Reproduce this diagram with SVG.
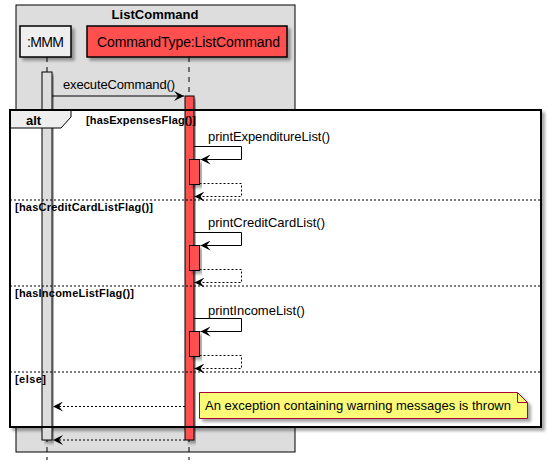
<svg xmlns="http://www.w3.org/2000/svg" width="554" height="464" viewBox="0 0 554 464">
<defs>
<filter id="sh" x="-10%" y="-10%" width="130%" height="130%">
<feGaussianBlur in="SourceAlpha" stdDeviation="1.5"/>
<feOffset dx="3" dy="3" result="o"/>
<feComponentTransfer><feFuncA type="linear" slope="0.35"/></feComponentTransfer>
<feMerge><feMergeNode/><feMergeNode in="SourceGraphic"/></feMerge>
</filter>
<marker id="ah" markerWidth="12" markerHeight="10" refX="11" refY="5" orient="auto" markerUnits="userSpaceOnUse">
<path d="M1,0 L11,5 L1,10 L5,5 Z" fill="#000"/>
</marker>
<style>
text{font-family:"Liberation Sans",Arial,sans-serif;fill:#000}
.t13{font-size:13px}
.b11{font-size:11px;font-weight:bold}
.b13{font-size:13px;font-weight:bold}
.life{stroke:#000;stroke-width:1;stroke-dasharray:5,5;fill:none}
.msg{stroke:#000;stroke-width:1;fill:none}
.ret{stroke:#000;stroke-width:1;fill:none;stroke-dasharray:2,2}
.sep{stroke:#000;stroke-width:1;stroke-dasharray:2,2}
.actR{fill:#FF5050;stroke:#000;stroke-width:1}
.actG{fill:#DDDDDD;stroke:#000;stroke-width:1}
</style>
</defs>
<rect width="554" height="464" fill="#fff"/>
<g id="box-ListCommand">
<rect x="16" y="5" width="279" height="447" fill="#DDDDDD" stroke="#000" stroke-width="1"/>
<text x="155" y="19" class="b13" text-anchor="middle" textLength="87">ListCommand</text>
</g>
<g id="lifelines">
<line class="life" x1="47" y1="57" x2="47" y2="460"/>
<line class="life" x1="189" y1="57" x2="189" y2="460"/>
</g>
<g id="p-MMM">
<rect x="20" y="26" width="51" height="31" fill="#EEEEEE" stroke="#000" stroke-width="1.5" filter="url(#sh)"/>
<text x="45.5" y="47" text-anchor="middle" style="font-size:14px" textLength="37">:MMM</text>
</g>
<g id="p-CommandType">
<rect x="87" y="26" width="200" height="31" fill="#FF5050" stroke="#000" stroke-width="1.5" filter="url(#sh)"/>
<text x="188.5" y="47" text-anchor="middle" style="font-size:14px" textLength="183">CommandType:ListCommand</text>
</g>
<g id="alt-bg">
<rect x="10" y="110" width="531" height="317" fill="#fff" stroke="#000" stroke-width="2" filter="url(#sh)"/>
</g>
<g id="act-MMM">
<rect class="actG" x="42" y="72" width="10" height="368" filter="url(#sh)"/>
</g>
<g id="act-Cmd">
<rect class="actR" x="185" y="96" width="9" height="344" filter="url(#sh)"/>
</g>
<g id="nested-acts">
<rect class="actR" x="189.5" y="159.5" width="10" height="25" filter="url(#sh)"/>
<rect class="actR" x="189.5" y="245.5" width="10" height="25" filter="url(#sh)"/>
<rect class="actR" x="189.5" y="331.5" width="10" height="25" filter="url(#sh)"/>
</g>
<g id="alt-frame">
<path d="M10,110 H71 V117 L61,128 H10 Z" fill="#EEEEEE" stroke="#000" stroke-width="1"/>
<rect x="10" y="110" width="531" height="317" fill="none" stroke="#000" stroke-width="2"/>
<text x="26" y="125" class="b13">alt</text>
<text x="86" y="124" class="b11" textLength="110">[hasExpensesFlag()]</text>
<text x="15" y="211" class="b11" textLength="138">[hasCreditCardListFlag()]</text>
<text x="15" y="297" class="b11" textLength="119">[hasIncomeListFlag()]</text>
<text x="15" y="383" class="b11" textLength="31">[else]</text>
<line class="sep" x1="10" y1="200" x2="541" y2="200"/>
<line class="sep" x1="10" y1="286" x2="541" y2="286"/>
<line class="sep" x1="10" y1="372" x2="541" y2="372"/>
</g>
<g id="note">
<path d="M199.5,392.5 H517.5 L527.5,402.5 V418.5 H199.5 Z" fill="#FBFB77" stroke="#A80036" stroke-width="1" filter="url(#sh)"/>
<path d="M517.5,392.5 V402.5 H527.5" fill="none" stroke="#A80036" stroke-width="1"/>
<text x="205" y="410" class="t13" textLength="306">An exception containing warning messages is thrown</text>
</g>
<g id="connectors">
<line class="msg" x1="52" y1="96" x2="184" y2="96" marker-end="url(#ah)"/>
<text x="63" y="89" class="t13" textLength="112">executeCommand()</text>
<path class="msg" d="M194,146.5 H241.5 V159.5 H200.5" marker-end="url(#ah)"/>
<text x="208" y="141" class="t13" textLength="122">printExpenditureList()</text>
<path class="ret" d="M199.5,183.5 H241.5 V196.5 H194.5" marker-end="url(#ah)"/>
<path class="msg" d="M194,232.5 H241.5 V245.5 H200.5" marker-end="url(#ah)"/>
<text x="208" y="227" class="t13">printCreditCardList()</text>
<path class="ret" d="M199.5,269.5 H241.5 V282.5 H194.5" marker-end="url(#ah)"/>
<path class="msg" d="M194,318.5 H241.5 V331.5 H200.5" marker-end="url(#ah)"/>
<text x="208" y="315" class="t13">printIncomeList()</text>
<path class="ret" d="M199.5,355.5 H241.5 V368.5 H194.5" marker-end="url(#ah)"/>
<line class="ret" x1="185" y1="406.5" x2="53" y2="406.5" marker-end="url(#ah)"/>
<line class="ret" x1="185" y1="440" x2="53" y2="440" marker-end="url(#ah)"/>
</g>
</svg>
